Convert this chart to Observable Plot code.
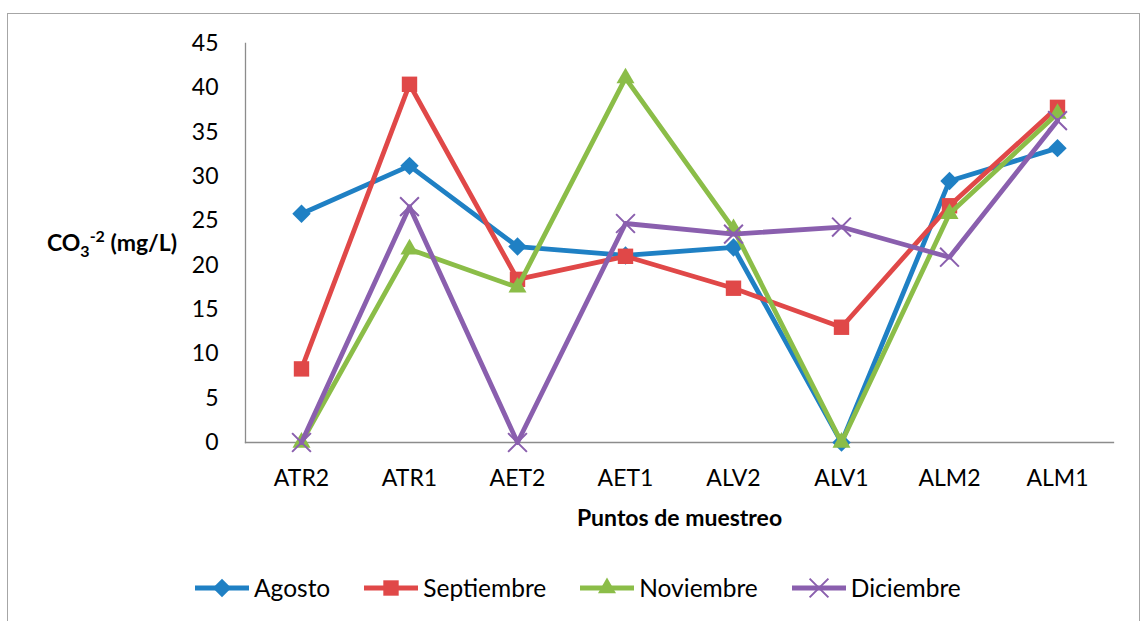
<!DOCTYPE html>
<html>
<head>
<meta charset="utf-8">
<script src="https://cdn.jsdelivr.net/npm/d3@7"></script>
<script src="https://cdn.jsdelivr.net/npm/@observablehq/plot@0.6"></script>
<style>
  html, body { margin: 0; padding: 0; background: #fff; }
  #wrap { position: relative; width: 1142px; height: 621px; overflow: hidden; font-family: Lato, sans-serif; }
  #border { position: absolute; left: 7px; top: 13px; width: 1133px; height: 640px; border: 1px solid #a6a6a6; box-sizing: border-box; }
  #chart { position: absolute; left: 0; top: 0; }
  #legend { position: absolute; left: 195px; top: 573px; display: flex; align-items: center; font-size: 24.5px; color: #000; }
  .item { display: flex; align-items: center; margin-right: 34px; }
  .item svg { margin-right: 5px; }
</style>
</head>
<body>
<div id="wrap">
  <div id="border"></div>
  <div id="chart"></div>
  <div id="legend"></div>
</div>
<script>
// Sampling points along the x axis
const categories = ["ATR2", "ATR1", "AET2", "AET1", "ALV2", "ALV1", "ALM2", "ALM1"];

// CO3-2 concentration (mg/L) per month
const agosto     = [25.8, 31.2, 22.1, 21.1, 22.0, 0, 29.5, 33.2];
const septiembre = [8.3, 40.4, 18.4, 21.0, 17.4, 13.0, 26.7, 37.8];
const noviembre  = [0, 21.8, 17.5, 41.1, 24.1, 0, 25.8, 37.1];
const diciembre  = [0, 26.6, 0, 24.7, 23.5, 24.3, 20.9, 36.3];

const seriesNames = ["Agosto", "Septiembre", "Noviembre", "Diciembre"];
const seriesValues = [agosto, septiembre, noviembre, diciembre];
const colors = ["#1f80c4", "#e04848", "#8bbd48", "#8a5fae"];
const symbols = ["diamond2", "square2", "triangle2", "times"];
const yTicks = [0, 5, 10, 15, 20, 25, 30, 35, 40, 45];

const rows = seriesNames.flatMap((s, i) =>
  categories.map((c, j) => ({serie: s, punto: c, valor: seriesValues[i][j]}))
);

const markerR = {Agosto: 8.3, Septiembre: 9.8, Noviembre: 8.6, Diciembre: 8.6};

const marks = [
  Plot.frame({anchor: "left", stroke: "#8c8c8c", strokeWidth: 1.3}),
  Plot.frame({anchor: "bottom", stroke: "#8c8c8c", strokeWidth: 1.3})
];
seriesNames.forEach((s, i) => {
  const d = rows.filter(r => r.serie === s);
  marks.push(Plot.line(d, {x: "punto", y: "valor", stroke: colors[i], strokeWidth: 4.8}));
  if (symbols[i] === "times") {
    marks.push(Plot.dot(d, {x: "punto", y: "valor", symbol: "times", r: markerR[s], stroke: colors[i], strokeWidth: 2}));
  } else {
    marks.push(Plot.dot(d, {x: "punto", y: "valor", symbol: symbols[i], r: markerR[s], fill: colors[i], stroke: "none"}));
  }
});
marks.push(Plot.text(["Puntos de muestreo"], {frameAnchor: "bottom", dy: 76, lineAnchor: "middle", fontWeight: "bold", fontSize: 23, fill: "#000"}));

const chart = Plot.plot({
  width: 1142,
  height: 545,
  marginTop: 43,
  marginBottom: 103,
  marginLeft: 245,
  marginRight: 29,
  style: {fontFamily: "Lato, sans-serif", fontSize: "23px", color: "#000", background: "transparent", overflow: "visible"},
  x: {type: "point", domain: categories, padding: 0.5, label: null, tickSize: 0, tickPadding: 27},
  y: {domain: [0, 45], ticks: yTicks, label: null, tickSize: 0, tickPadding: 27},
  marks
});
document.getElementById("chart").appendChild(chart);

// y-axis title with subscript and superscript
const svg = d3.select(chart);
const yt = svg.append("text")
  .attr("x", 112).attr("y", 251)
  .attr("text-anchor", "middle")
  .attr("font-family", "Lato, sans-serif")
  .attr("font-size", 23)
  .attr("font-weight", "bold")
  .attr("fill", "#000");
yt.append("tspan").text("CO");
yt.append("tspan").attr("font-size", 16).attr("dy", 6).text("3");
yt.append("tspan").attr("font-size", 16).attr("dy", -15).text("-2");
yt.append("tspan").attr("dy", 9).text(" (mg/L)");

// legend
const legend = d3.select("#legend");
seriesNames.forEach((s, i) => {
  const item = legend.append("div").attr("class", "item");
  const sw = item.append("svg").attr("width", 54).attr("height", 22);
  sw.append("line").attr("x1", 0).attr("x2", 54).attr("y1", 11).attr("y2", 11)
    .attr("stroke", colors[i]).attr("stroke-width", 4.8);
  const sym = {diamond2: d3.symbolDiamond2, square2: d3.symbolSquare2, triangle2: d3.symbolTriangle2, times: d3.symbolTimes}[symbols[i]];
  const p = sw.append("path")
    .attr("transform", "translate(27,11)")
    .attr("d", d3.symbol(sym, Math.PI * markerR[s] * markerR[s])());
  if (symbols[i] === "times") p.attr("fill", "none").attr("stroke", colors[i]).attr("stroke-width", 2);
  else p.attr("fill", colors[i]);
  item.append("span").text(s);
});
</script>
</body>
</html>
